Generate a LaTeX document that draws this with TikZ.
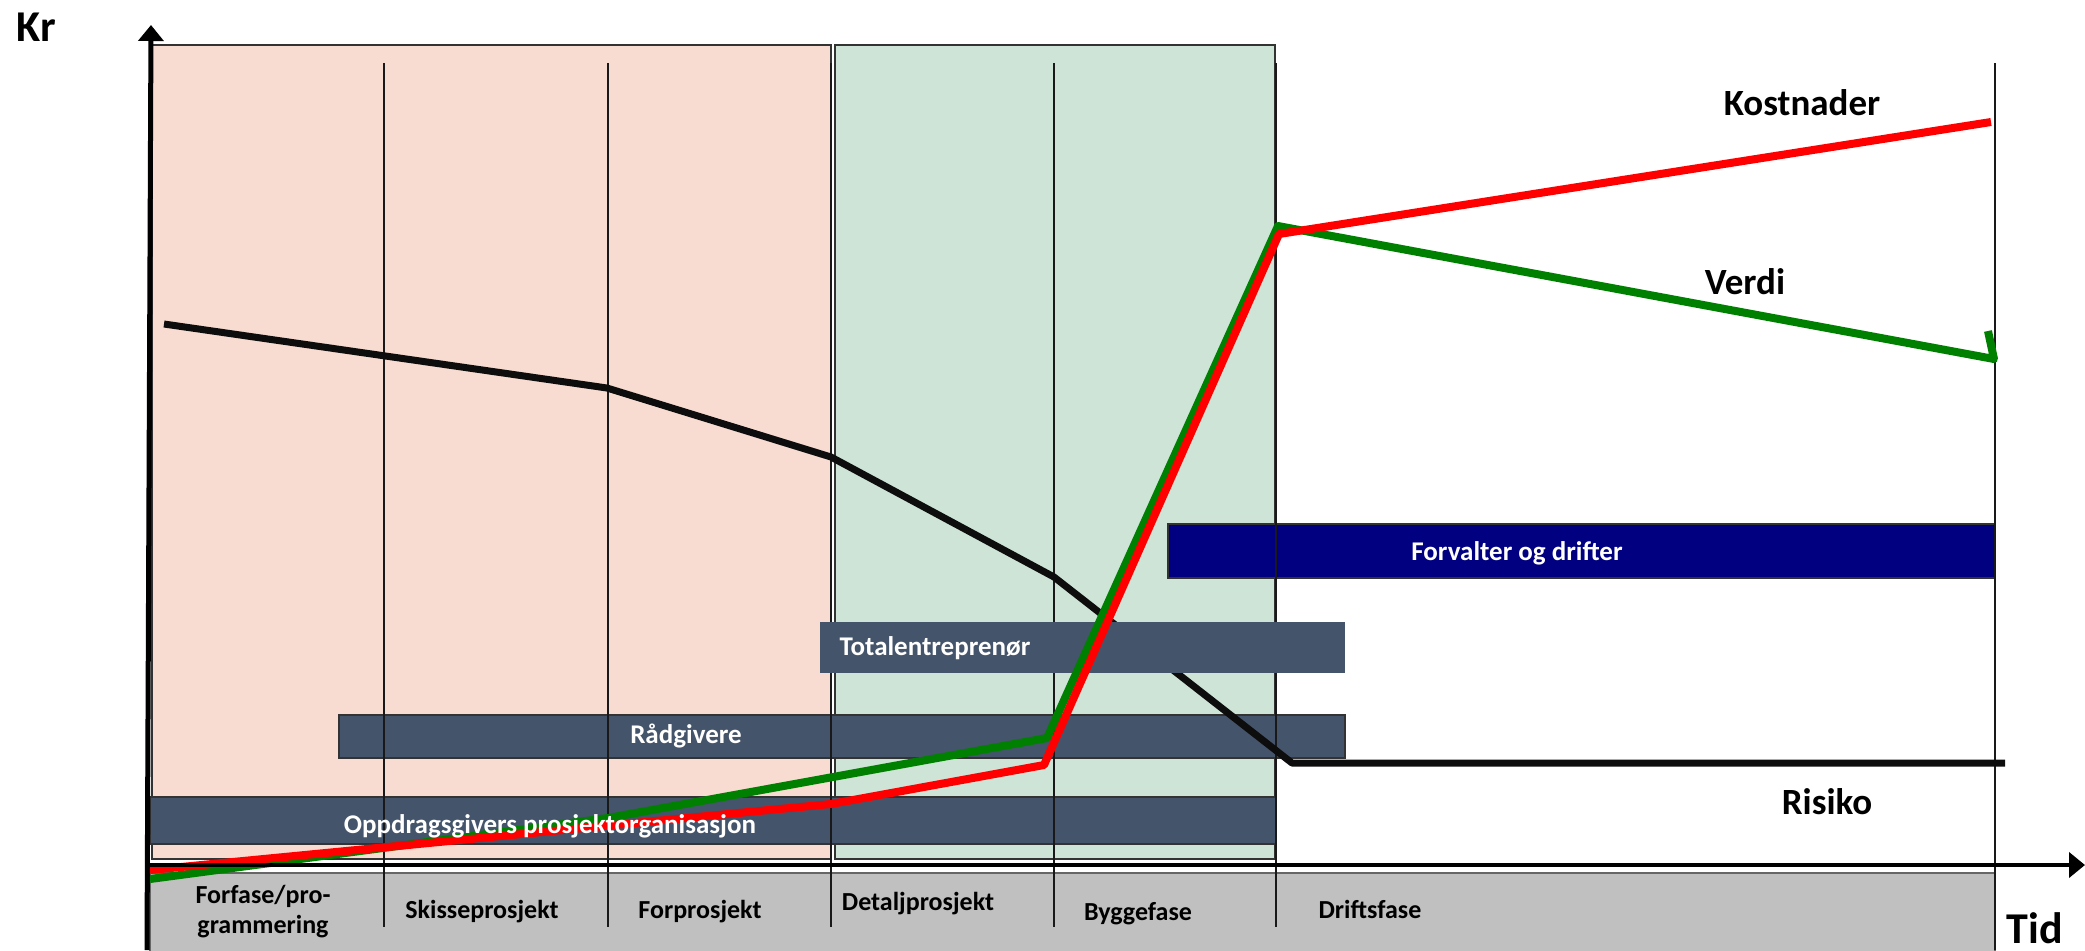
\documentclass[tikz,border=0pt]{standalone}
\usepackage{fontspec}
\setmainfont{Carlito}
\usetikzlibrary{arrows.meta}
\definecolor{fasepink}{HTML}{F9DCD1}
\definecolor{fasegreen}{HTML}{CDE4D7}
\definecolor{barslate}{HTML}{44546A}
\definecolor{barnavy}{HTML}{000080}
\definecolor{bandgray}{HTML}{C0C0C0}
\definecolor{verdigreen}{HTML}{008000}

\begin{document}
\begin{tikzpicture}[x=0.5pt,y=-0.5pt,
		font=\bfseries,
		>={Triangle[width=12.5pt,length=8pt]},
		fase/.style={font=\fontsize{13}{15}\selectfont\bfseries, anchor=base},
		bartext/.style={text=white, font=\fontsize{13.5}{16}\selectfont\bfseries, anchor=base},
		curvetext/.style={font=\fontsize{18.5}{22}\selectfont\bfseries, anchor=base},
		axistext/.style={font=\fontsize{22}{26}\selectfont\bfseries, anchor=base},
		frame/.style={draw=black!80, line width=0.8pt},
		bar/.style={frame, fill=barslate},
		divider/.style={draw=black!90, line width=0.9pt},
		curve/.style={line width=4pt, line join=round},
	]
	\useasboundingbox (0,0) rectangle (2085,950);

	% faser
	\draw[frame, fill=fasepink] (152,45) rectangle (831,859);
	\draw[frame, fill=fasegreen] (835,45) rectangle (1275,859);
	\draw[frame, draw=black!60, fill=bandgray] (150,873) rectangle (1995,960);

	% aktoerer
	\draw[bar] (150,797) rectangle (1276,844);
	\draw[bar] (339,715) rectangle (1345,758);
	\draw[frame, fill=barnavy] (1168,524) rectangle (1995,578);

	\foreach \x in {384,608,831,1054,1276}
		\draw[divider] (\x,63) -- (\x,927);
	\draw[divider] (1995,63) -- (1995,950);

	% risiko
	\draw[curve, line width=3.5pt, black!95]
		(164,324) -- (607,388) -- (831,457) -- (1054,577) -- (1292,763) -- (2005,763);

	\fill[barslate] (820,622) rectangle (1345,673);

	% verdi og kostnader
	\draw[curve, verdigreen]
		(150,879) -- (608,818) -- (1047,738) -- (1278,226) -- (1994,359) -- (1988,331);
	\draw[curve, red]
		(150,870) -- (831,804) -- (1044,765) -- (1279,234) -- (1991,122);

	% akser
	\draw[->, line width=2.5pt] (147,950) -- (151,25);
	\draw[->, line width=2.3pt] (150,865) -- (2085,865);

	\node[axistext] (kr) at (36,41) {Kr};
	\node[axistext] (tid) at (2035,943) {Tid};

	\node[curvetext] (kostnader) at (1802,115) {Kostnader};
	\node[curvetext] (verdi) at (1745,294) {Verdi};
	\node[curvetext] (risiko) at (1827,814) {Risiko};

	\node[bartext] (forvalter) at (1517,560) {Forvalter og drifter};
	\node[bartext] (totalentr) at (935,655) {Totalentreprenør};
	\node[bartext] (raadgivere) at (686,743) {Rådgivere};
	\node[bartext] (oppdragsg) at (550,833) {Oppdragsgivers prosjektorganisasjon};

	\node[fase, anchor=center, align=center] (forfase) at (263,912) {Forfase/pro-\\grammering};
	\node[fase] (skisse) at (482,918) {Skisseprosjekt};
	\node[fase] (forprosj) at (700,918) {Forprosjekt};
	\node[fase] (detalj) at (918,910) {Detaljprosjekt};
	\node[fase] (bygge) at (1138,920) {Byggefase};
	\node[fase] (drift) at (1370,918) {Driftsfase};
\end{tikzpicture}
\end{document}
